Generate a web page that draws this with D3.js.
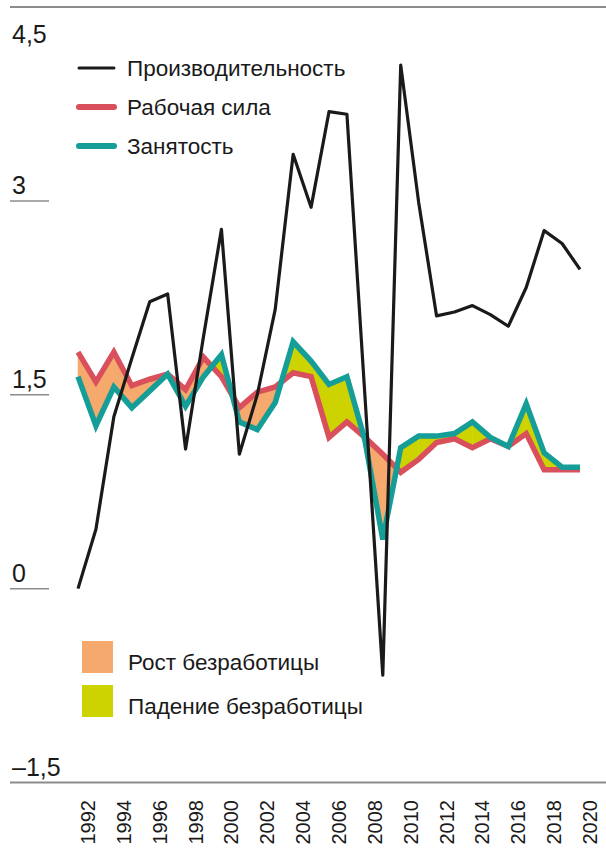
<html>
<head>
	<meta charset="utf-8">
	<title>Производительность, рабочая сила и занятость</title>
	<script src="https://d3js.org/d3.v7.min.js"></script>
	<style>
		body { margin: 0; background: #fff; }
		text { font-family: "Liberation Sans", Arial, sans-serif; fill: #1a1a1a; }
	</style>
</head>
<body>
	<script type="text/javascript">
		var width = 606
		var height = 851

		// data, % change per year
		var years = [1991, 1992, 1993, 1994, 1995, 1996, 1997, 1998, 1999, 2000,
			2001, 2002, 2003, 2004, 2005, 2006, 2007, 2008, 2009, 2010,
			2011, 2012, 2013, 2014, 2015, 2016, 2017, 2018, 2019]
		var productivity = [0.00, 0.46, 1.33, 1.78, 2.22, 2.28, 1.08, 1.95, 2.78, 1.04,
			1.50, 2.16, 3.36, 2.95, 3.69, 3.67, 1.50, -0.67, 4.05, 2.99,
			2.11, 2.14, 2.19, 2.12, 2.03, 2.33, 2.77, 2.67, 2.47]
		var laborForce = [1.83, 1.60, 1.83, 1.57, 1.62, 1.66, 1.54, 1.79, 1.64, 1.40,
			1.52, 1.56, 1.67, 1.64, 1.17, 1.29, 1.17, 1.04, 0.90, 1.00,
			1.13, 1.16, 1.09, 1.16, 1.10, 1.20, 0.92, 0.92, 0.92]
		var employment = [1.64, 1.26, 1.56, 1.40, 1.53, 1.66, 1.41, 1.64, 1.81, 1.29,
			1.23, 1.44, 1.91, 1.76, 1.58, 1.64, 1.15, 0.38, 1.09, 1.18,
			1.18, 1.20, 1.29, 1.17, 1.10, 1.43, 1.05, 0.94, 0.94]

		var xTickYears = [1992, 1994, 1996, 1998, 2000, 2002, 2004, 2006, 2008, 2010, 2012, 2014, 2016, 2018, 2020]
		var yTicks = [4.5, 3, 1.5, 0, -1.5]
		var yTickLabels = ["4,5", "3", "1,5", "0", "–1,5"]

		var lineNames = ["Производительность", "Рабочая сила", "Занятость"]
		var areaNames = ["Рост безработицы", "Падение безработицы"]

		var cBlack = "#1a1a1a", cRed = "#d9505c", cTeal = "#159e98"
		var cUp = "#f5a96c", cDown = "#ccd300"
		var cGrid = "#8c8c8c"

		var svg = d3.select("body").append("svg")
			.attr("width", width)
			.attr("height", height)

		var x = d3.scaleLinear().domain([1991, 2019]).range([78, 580])
		var y = d3.scaleLinear().domain([-1.5, 4.5]).range([782.5, 7])

		// y axis: labels with short rules, full rules at top and bottom
		var yg = svg.append("g")
		yTicks.forEach(function(v, i) {
			var full = (i == 0 || i == yTicks.length - 1)
			yg.append("line")
				.attr("x1", 10).attr("x2", full ? width : 49)
				.attr("y1", y(v)).attr("y2", y(v))
				.attr("stroke", cGrid)
				.attr("stroke-width", full ? 2 : 1.5)
			yg.append("text")
				.attr("x", 12)
				.attr("y", i == 0 ? y(v) + 36 : y(v) - 7)
				.style("font-size", "25px")
				.text(yTickLabels[i])
		})

		// x axis labels, rotated
		svg.append("g").selectAll("text")
			.data(xTickYears)
			.enter()
			.append("text")
			.attr("transform", d => "translate(" + (x(d) - 1) + ",800) rotate(-90)")
			.attr("text-anchor", "end")
			.style("font-size", "20px")
			.text(d => d)

		// fills between labour force and employment, split where they cross
		var fills = svg.append("g")
		for (var i = 0; i < years.length - 1; i++) {
			var d0 = employment[i] - laborForce[i]
			var d1 = employment[i + 1] - laborForce[i + 1]
			var pieces = []
			if (d0 * d1 >= 0) {
				pieces.push({ t0: 0, t1: 1, s: d0 + d1 })
			} else {
				var t = d0 / (d0 - d1)
				pieces.push({ t0: 0, t1: t, s: d0 })
				pieces.push({ t0: t, t1: 1, s: d1 })
			}
			pieces.forEach(function(p) {
				var at = function(arr, t) { return arr[i] + (arr[i + 1] - arr[i]) * t }
				var yr = function(t) { return years[i] + (years[i + 1] - years[i]) * t }
				var pts = [
					[x(yr(p.t0)), y(at(laborForce, p.t0))],
					[x(yr(p.t1)), y(at(laborForce, p.t1))],
					[x(yr(p.t1)), y(at(employment, p.t1))],
					[x(yr(p.t0)), y(at(employment, p.t0))]
				]
				fills.append("path")
					.attr("d", "M" + pts.join("L") + "Z")
					.attr("fill", p.s < 0 ? cUp : cDown)
					.attr("stroke", p.s < 0 ? cUp : cDown)
					.attr("stroke-width", 0.5)
			})
		}

		var line = d3.line()
			.x((d, i) => x(years[i]))
			.y(d => y(d))

		svg.append("path")
			.datum(laborForce)
			.attr("d", line)
			.attr("fill", "none")
			.attr("stroke", cRed)
			.attr("stroke-width", 5.5)
			.attr("stroke-linejoin", "miter")

		svg.append("path")
			.datum(employment)
			.attr("d", line)
			.attr("fill", "none")
			.attr("stroke", cTeal)
			.attr("stroke-width", 5.5)
			.attr("stroke-linejoin", "miter")

		svg.append("path")
			.datum(productivity)
			.attr("d", line)
			.attr("fill", "none")
			.attr("stroke", cBlack)
			.attr("stroke-width", 3.2)
			.attr("stroke-linejoin", "round")

		// legend for lines
		var lineColors = [cBlack, cRed, cTeal]
		var lineWidths = [3, 6, 6]
		var lg = svg.append("g")
		lineNames.forEach(function(name, i) {
			var ly = [68, 107, 146][i]
			lg.append("line")
				.attr("x1", 79).attr("x2", 114)
				.attr("y1", ly).attr("y2", ly)
				.attr("stroke", lineColors[i])
				.attr("stroke-width", lineWidths[i])
				.attr("stroke-linecap", "round")
			lg.append("text")
				.attr("x", 127)
				.attr("y", ly + 8)
				.style("font-size", "22.5px")
				.text(name)
		})

		// legend for fills
		var ag = svg.append("g")
		areaNames.forEach(function(name, i) {
			var top = [641, 685][i]
			ag.append("rect")
				.attr("x", 82).attr("y", top)
				.attr("width", 31).attr("height", 32)
				.attr("fill", i == 0 ? cUp : cDown)
			ag.append("text")
				.attr("x", 128)
				.attr("y", top + 29)
				.style("font-size", "22.5px")
				.text(name)
		})
	</script>
</body>
</html>
